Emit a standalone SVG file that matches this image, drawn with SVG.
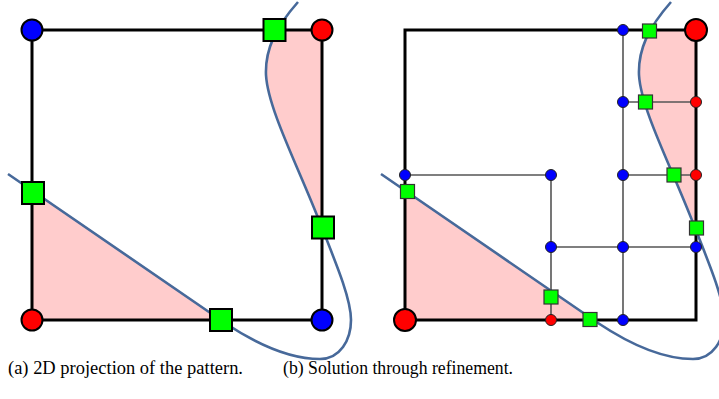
<svg xmlns="http://www.w3.org/2000/svg" xmlns:xlink="http://www.w3.org/1999/xlink" width="719" height="399" viewBox="0 0 719 399">
<style>
.pink{fill:#FFCCCC;stroke:none}
.edge{stroke:#000;stroke-width:3;fill:none;stroke-linecap:square}
.thin{stroke:#555;stroke-width:1.6;fill:none}
.curve{stroke:#47699A;stroke-width:2.6;fill:none}
.bigB{fill:#0000FF;stroke:#000;stroke-width:2}
.bigR{fill:#FF0000;stroke:#000;stroke-width:2}
.bigG{fill:#00FF00;stroke:#000;stroke-width:2}
.smB{fill:#0000FF;stroke:#222;stroke-width:1}
.smR{fill:#FF0000;stroke:#222;stroke-width:1}
.smG{fill:#00FF00;stroke:#333;stroke-width:1.2}
.cap{font-family:"Liberation Serif","DejaVu Serif",serif;font-size:18px;fill:#000}
</style>
<defs>
<clipPath id="clipL"><rect x="32" y="30" width="290" height="290"/></clipPath>
<clipPath id="clipR"><rect x="405" y="30" width="291" height="290"/></clipPath>
<path id="curve" d="M8,174 L225,323 C255,343 290,359 320,359 C340,359 351,340 351,320 C351,300 338,268 322,228 C300,170 268,110 266,75 C265,50 275,28 298,2"/>
</defs>

<!-- Panel (a) -->
<g id="regionsA" clip-path="url(#clipL)">
<path class="pink" d="M8,174 L225,323 L0,330 L0,174 Z"/>
<path class="pink" d="M322,228 C300,170 268,110 266,75 C265,50 275,28 298,2 L340,2 L340,228 Z"/>
</g>
<g id="connectorsA">
<path class="edge" d="M32,30 H322 V320 H32 Z"/>
<use xlink:href="#curve" class="curve"/>
</g>
<g id="nodesA">
<circle id="a_tl" class="bigB" cx="32" cy="30" r="10.5"/>
<circle id="a_tr" class="bigR" cx="322" cy="30" r="10.5"/>
<circle id="a_bl" class="bigR" cx="32" cy="320" r="10.5"/>
<circle id="a_br" class="bigB" cx="322" cy="320" r="10.5"/>
<rect id="a_g1" class="bigG" x="263.5" y="19" width="22" height="22"/>
<rect id="a_g2" class="bigG" x="22" y="182" width="22" height="22"/>
<rect id="a_g3" class="bigG" x="312" y="216.5" width="22" height="22"/>
<rect id="a_g4" class="bigG" x="210" y="309" width="22" height="22"/>
</g>

<!-- Panel (b) -->
<g id="regionsB" clip-path="url(#clipR)">
<g transform="translate(373,0)">
<path class="pink" d="M8,174 L225,323 L0,330 L0,174 Z"/>
<path class="pink" d="M322,228 C300,170 268,110 266,75 C265,50 275,28 298,2 L340,2 L340,228 Z"/>
</g>
</g>
<g id="connectorsB">
<path class="thin" d="M623,30 V320 M623,102 H696 M405,175 H551 M623,175 H696 M551,175 V320 M551,247 H696"/>
<path class="edge" d="M405,30 H696 V320 H405 Z"/>
<use xlink:href="#curve" class="curve" transform="translate(373,0)"/>
</g>
<g id="nodesB">
<circle id="b_tr" class="bigR" cx="696" cy="30" r="11"/>
<circle id="b_bl" class="bigR" cx="405" cy="320" r="11"/>
<circle class="smB" cx="623" cy="30" r="5.5"/>
<circle class="smB" cx="623" cy="102" r="5.5"/>
<circle class="smB" cx="405" cy="175" r="5.5"/>
<circle class="smB" cx="551" cy="175" r="5.5"/>
<circle class="smB" cx="623" cy="175" r="5.5"/>
<circle class="smB" cx="551" cy="247" r="5.5"/>
<circle class="smB" cx="623" cy="247" r="5.5"/>
<circle class="smB" cx="696" cy="247" r="5.5"/>
<circle class="smB" cx="623" cy="320" r="5.5"/>
<circle class="smR" cx="696" cy="102" r="5.5"/>
<circle class="smR" cx="696" cy="175" r="5.5"/>
<circle class="smR" cx="551" cy="320" r="5.5"/>
<rect class="smG" x="642.5" y="24" width="14" height="14"/>
<rect class="smG" x="638.5" y="95" width="14" height="14"/>
<rect class="smG" x="667" y="168" width="14" height="14"/>
<rect class="smG" x="400.5" y="184.5" width="14" height="14"/>
<rect class="smG" x="689.5" y="221" width="14" height="14"/>
<rect class="smG" x="544" y="290" width="14" height="14"/>
<rect class="smG" x="583" y="312.5" width="14" height="14"/>
</g>

<g id="captions">
<text class="cap" x="8" y="374" textLength="235" lengthAdjust="spacingAndGlyphs">(a) 2D projection of the pattern.</text>
<text class="cap" x="283" y="374" textLength="230" lengthAdjust="spacingAndGlyphs">(b) Solution through refinement.</text>
</g>
</svg>
